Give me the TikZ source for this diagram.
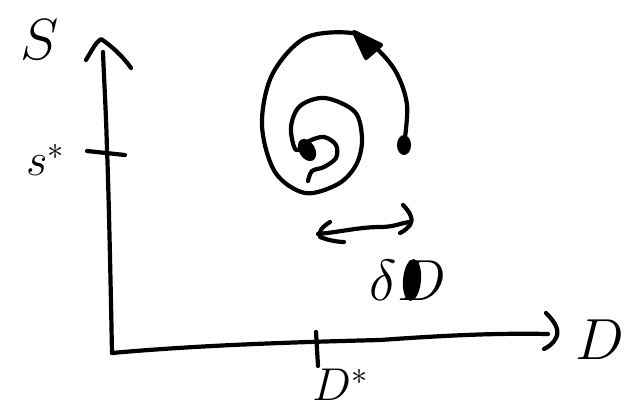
\RequirePackage{fix-cm}
\documentclass[tikz,border=0pt]{standalone}
\usepackage{fix-cm}
\begin{document}
\begin{tikzpicture}[x=1pt,y=-1pt,
  pen/.style={line width=4.2pt,line cap=round,line join=round,black},
  lbl/.style={font=\fontsize{58}{58}\selectfont,inner sep=0pt},
  slbl/.style={font=\fontsize{46}{46}\selectfont,inner sep=0pt}]
\useasboundingbox (0,0) rectangle (629,418);
% axes
\coordinate (O) at (112,353);
\coordinate (ytop) at (103,52);
\coordinate (xend) at (548,334);
\draw[pen] (O) .. controls (110,250) and (108,170) .. (107,150) .. controls (106,110) and (104,80) .. (ytop);
\draw[pen] (86,60) .. controls (92,50) and (96,42) .. (101,39) .. controls (110,45) and (122,55) .. (131,68);
\draw[pen] (O) .. controls (200,345) and (300,342) .. (380,340) .. controls (450,335) and (500,333) .. (xend);
\draw[pen] (546,313) .. controls (555,322) and (560,330) .. (556,338) .. controls (553,344) and (548,347) .. (544,349);
% ticks
\draw[pen] (87,151) -- (125,155);
\draw[pen] (316,332) -- (318,366);
% labels
\node[lbl] (Slab) at (40,40) {$S$};
\node[slbl] (Sstar) at (45,160) {$s^{*}$};
\node[lbl] (Dlab) at (600,340) {$D$};
\node[slbl] (Dstar) at (340,385) {$D^{*}$};
\node[lbl] (dD) at (408,280) {$\delta D$};
\fill[rotate around={-5:(412,280)}] (412,280) ellipse [x radius=9, y radius=21];
% spiral trajectory
\coordinate (start) at (404,145);
\draw[pen] plot[smooth,tension=0.55] coordinates {(start) (407,105) (396,72) (375,47) (352,33) (305,38) (272,75) (262,125) (275,172) (305,193) (338,184) (356,165) (362,140) (355,112) (325,98) (300,106) (291,127) (296,150) (309,141) (324,137) (336,145) (336,158) (324,167) (312,171) (308,181)};
\draw[pen,fill=black] (354,32) -- (381,45) -- (366,58) -- cycle;
\fill (start) ellipse [x radius=7, y radius=10];
\fill[rotate around={30:(307,150)}] (307,150) ellipse [x radius=8, y radius=12];
% double arrow (delta D)
\coordinate (dl) at (318,234);
\coordinate (dr) at (410,222);
\draw[pen] (dl) .. controls (340,232) and (360,227) .. (380,227) .. controls (395,227) and (400,223) .. (dr);
\draw[pen] (330,222) .. controls (322,227) and (318,232) .. (320,237) .. controls (330,241) and (340,242) .. (344,242);
\draw[pen] (403,205) .. controls (410,212) and (414,220) .. (410,225) .. controls (406,230) and (402,232) .. (400,233);
\end{tikzpicture}
\end{document}
